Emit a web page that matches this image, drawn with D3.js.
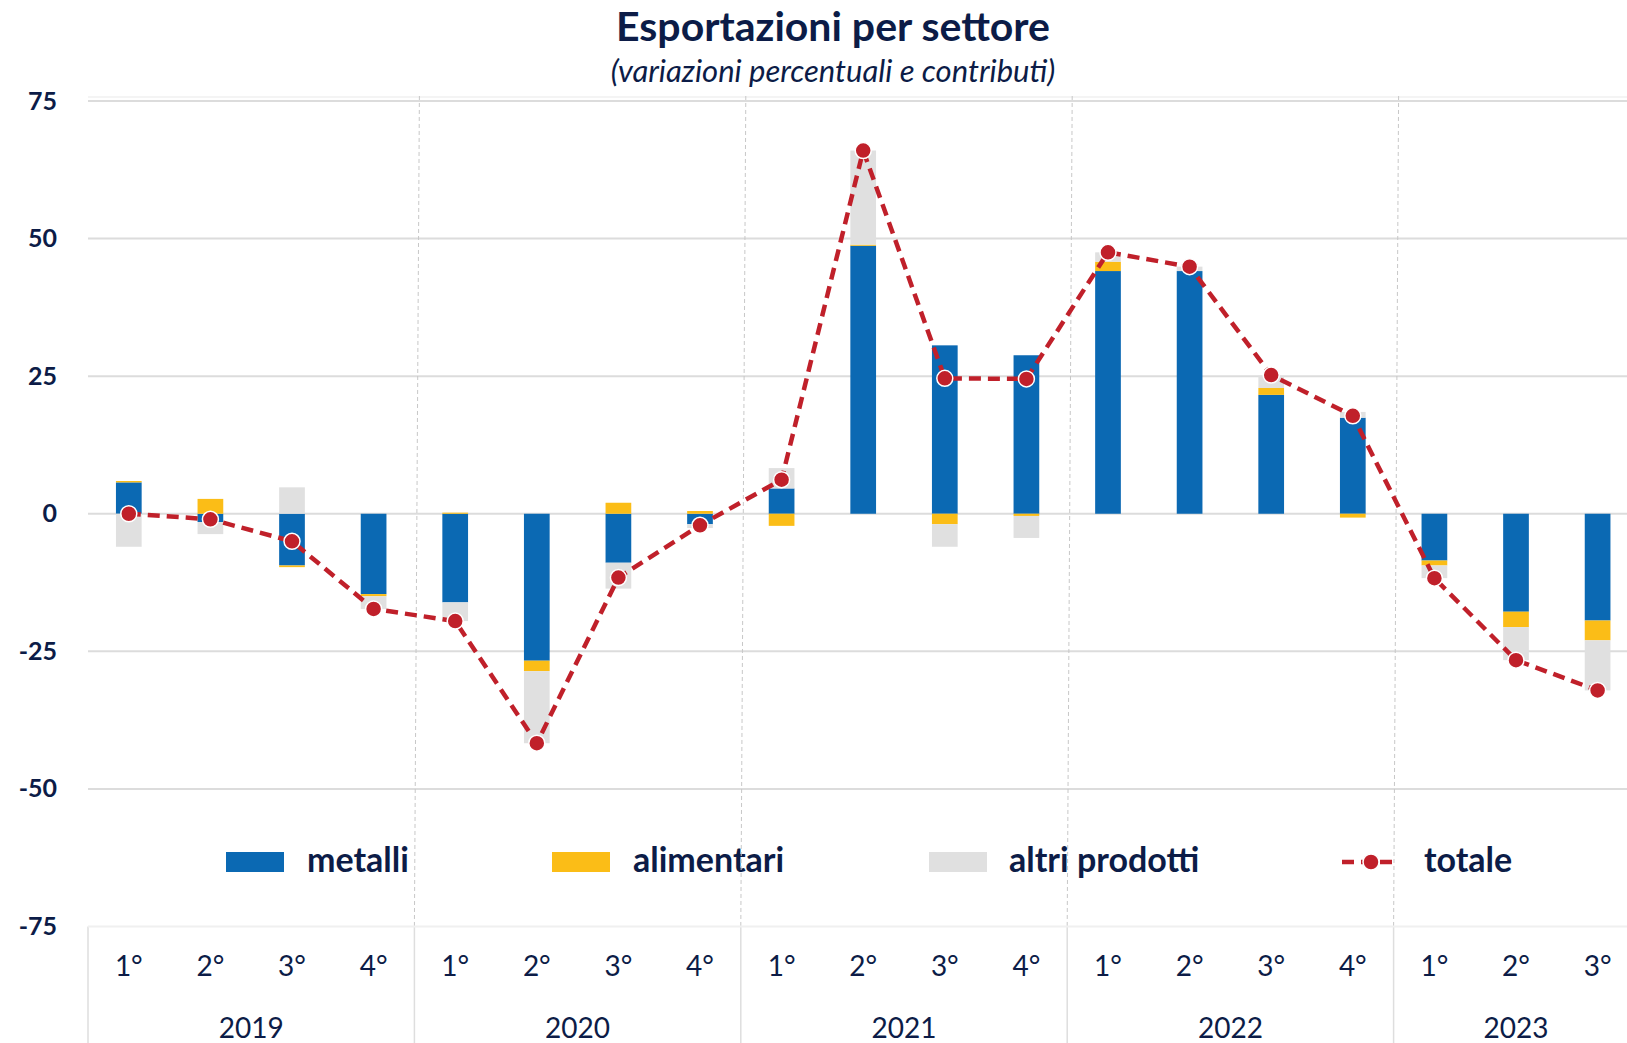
<!DOCTYPE html>
<html>
<head>
<meta charset="utf-8">
<script src="https://cdn.jsdelivr.net/npm/d3@7"></script>
<style>
  body { margin: 0; background: #fff; }
  svg { display: block; font-family: Lato, "Open Sans", sans-serif; }
</style>
</head>
<body>
<script>
// quarters and years
const quarters = ["1°","2°","3°","4°","1°","2°","3°","4°","1°","2°","3°","4°","1°","2°","3°","4°","1°","2°","3°"];
const years = ["2019","2020","2021","2022","2023"];
const yearOf = [0,0,0,0,1,1,1,1,2,2,2,2,3,3,3,3,4,4,4];

// contributions (percentage points)
const metalli    = [5.7, -1.5, -9.4, -14.6, -16.1, -26.7, -8.9, -1.9, 4.6, 48.7, 30.6, 28.8, 44.1, 44.1, 21.6, 17.45, -8.5, -17.8, -19.4];
const alimentari = [0.25, 2.7, -0.3, -0.4, 0.2, -1.9, 2.0, 0.5, -2.2, 0.2, -1.9, -0.4, 1.7, 0.0, 1.25, -0.7, -0.9, -2.8, -3.6];
const altri      = [-6.0, -2.2, 4.8, -2.3, -3.4, -13.1, -4.7, -0.7, 3.7, 17.1, -4.1, -4.0, 1.7, 0.8, 2.2, 1.05, -2.3, -6.0, -9.1];
const totale     = [0.0, -1.0, -5.0, -17.3, -19.5, -41.7, -11.6, -2.1, 6.2, 66.0, 24.6, 24.5, 47.5, 44.9, 25.2, 17.8, -11.7, -26.6, -32.1];

const yTicks = [75, 50, 25, 0, -25, -50, -75];
const seriesNames = ["metalli", "alimentari", "altri prodotti", "totale"];

const W = 1627, H = 1043;
const navy = "#0c1c47";
const colors = { metalli: "#0b69b3", alimentari: "#fbbd17", altri: "#e0e0e0", totale: "#c0202a" };

const svg = d3.select("body").append("svg").attr("width", W).attr("height", H);

const left = 88, right = 88 + 19 * 81.6;
const yTop = 101, yBot = 926.5;

const x = d3.scaleBand().domain(d3.range(quarters.length)).range([left, right]).padding(0);
const y = d3.scaleLinear().domain([-75, 75]).range([yBot, yTop]);
const barW = x.bandwidth() * 0.315;

// title
svg.append("text").attr("x", 833).attr("y", 41).attr("text-anchor", "middle")
  .attr("font-size", 41).attr("font-weight", 700).attr("fill", navy)
  .text("Esportazioni per settore");
svg.append("text").attr("x", 833).attr("y", 82).attr("text-anchor", "middle")
  .attr("font-size", 31).attr("font-style", "italic").attr("fill", navy)
  .text("(variazioni percentuali e contributi)");

// gridlines
svg.append("g").selectAll("line").data(yTicks.filter(d => d > -75)).join("line")
  .attr("x1", left).attr("x2", W)
  .attr("y1", d => y(d)).attr("y2", d => y(d))
  .attr("stroke", "#dcdcdc").attr("stroke-width", 2);
svg.append("line").attr("x1", left).attr("x2", W).attr("y1", yTop - 4).attr("y2", yTop - 4)
  .attr("stroke", "#f0f0f0").attr("stroke-width", 1.5);

// y axis labels (plain hyphen for negatives)
const yAxis = svg.append("g").attr("transform", `translate(${left},0)`)
  .call(d3.axisLeft(y).tickValues(yTicks).tickSize(0).tickPadding(31).tickFormat(d => String(d)));
yAxis.select(".domain").remove();
yAxis.selectAll("text").attr("font-size", 25).attr("font-weight", 700).attr("fill", navy)
  .attr("font-family", "Lato, sans-serif");

// stacked bars
const rows = quarters.map((q, i) => ({ i, metalli: metalli[i], alimentari: alimentari[i], altri: altri[i] }));
const stack = d3.stack().keys(["metalli", "alimentari", "altri"]).offset(d3.stackOffsetDiverging);
const layers = stack(rows);
svg.append("g").selectAll("g").data(layers).join("g")
  .attr("fill", d => colors[d.key])
  .selectAll("rect").data(d => d).join("rect")
  .attr("x", d => x(d.data.i) + x.bandwidth() / 2 - barW / 2)
  .attr("width", barW)
  .attr("y", d => y(Math.max(d[0], d[1])))
  .attr("height", d => Math.abs(y(d[0]) - y(d[1])));

// legend
const legY = 862;
const legSw = [
  { key: "metalli", sx: 226, tx: 307 },
  { key: "alimentari", sx: 552, tx: 633 },
  { key: "altri", sx: 929, tx: 1009 }
];
const leg = svg.append("g");
legSw.forEach((l, k) => {
  leg.append("rect").attr("x", l.sx).attr("y", legY - 10).attr("width", 58).attr("height", 20).attr("fill", colors[l.key]);
  leg.append("text").attr("x", l.tx).attr("y", legY + 10).attr("font-size", 34).attr("font-weight", 700)
    .attr("fill", navy).text(seriesNames[k]);
});
leg.append("line").attr("x1", 1342).attr("x2", 1399).attr("y1", legY).attr("y2", legY)
  .attr("stroke", colors.totale).attr("stroke-width", 4.5).attr("stroke-dasharray", "12,7");
leg.append("circle").attr("cx", 1371).attr("cy", legY).attr("r", 8).attr("fill", colors.totale)
  .attr("stroke", "#fff").attr("stroke-width", 1.5);
leg.append("text").attr("x", 1424).attr("y", legY + 10).attr("font-size", 34).attr("font-weight", 700)
  .attr("fill", navy).text(seriesNames[3]);

// year separators (dashed in plot, solid in axis area)
const bounds = [4, 8, 12, 16].map(i => x(i));
svg.append("g").selectAll("line").data(bounds).join("line")
  .attr("x1", d => d + 5).attr("x2", d => d)
  .attr("y1", yTop - 5).attr("y2", yBot)
  .attr("stroke", "#c8c8c8").attr("stroke-width", 1).attr("stroke-dasharray", "4,3");
svg.append("g").selectAll("line").data([left].concat(bounds)).join("line")
  .attr("x1", d => d).attr("x2", d => d).attr("y1", yBot).attr("y2", H)
  .attr("stroke", "#dedede").attr("stroke-width", 1.5);
svg.append("line").attr("x1", left).attr("x2", W).attr("y1", yBot).attr("y2", yBot)
  .attr("stroke", "#f0f0f0").attr("stroke-width", 2);

// totale line
const line = d3.line().x((d, i) => x(i) + x.bandwidth() / 2).y(d => y(d));
svg.append("path").datum(totale).attr("d", line).attr("fill", "none")
  .attr("stroke", colors.totale).attr("stroke-width", 4.5).attr("stroke-dasharray", "12,7");
svg.append("g").selectAll("circle").data(totale).join("circle")
  .attr("cx", (d, i) => x(i) + x.bandwidth() / 2).attr("cy", d => y(d)).attr("r", 8)
  .attr("fill", colors.totale).attr("stroke", "#fff").attr("stroke-width", 1.5);

// x axis: quarters
const xAxis = svg.append("g").attr("transform", `translate(0,${yBot})`)
  .call(d3.axisBottom(x).tickSize(0).tickPadding(30).tickFormat(i => quarters[i]));
xAxis.select(".domain").remove();
xAxis.selectAll("text").attr("font-size", 28).attr("fill", navy).attr("font-family", "Lato, sans-serif");

// x axis: years, centred on their quarters
svg.append("g").selectAll("text").data(years).join("text")
  .attr("x", (yr, idx) => {
    const qs = d3.range(quarters.length).filter(i => yearOf[i] === idx);
    return (x(qs[0]) + x(qs[qs.length - 1]) + x.bandwidth()) / 2;
  })
  .attr("y", 1038).attr("text-anchor", "middle")
  .attr("font-size", 28).attr("fill", navy).text(d => d);
</script>
</body>
</html>
